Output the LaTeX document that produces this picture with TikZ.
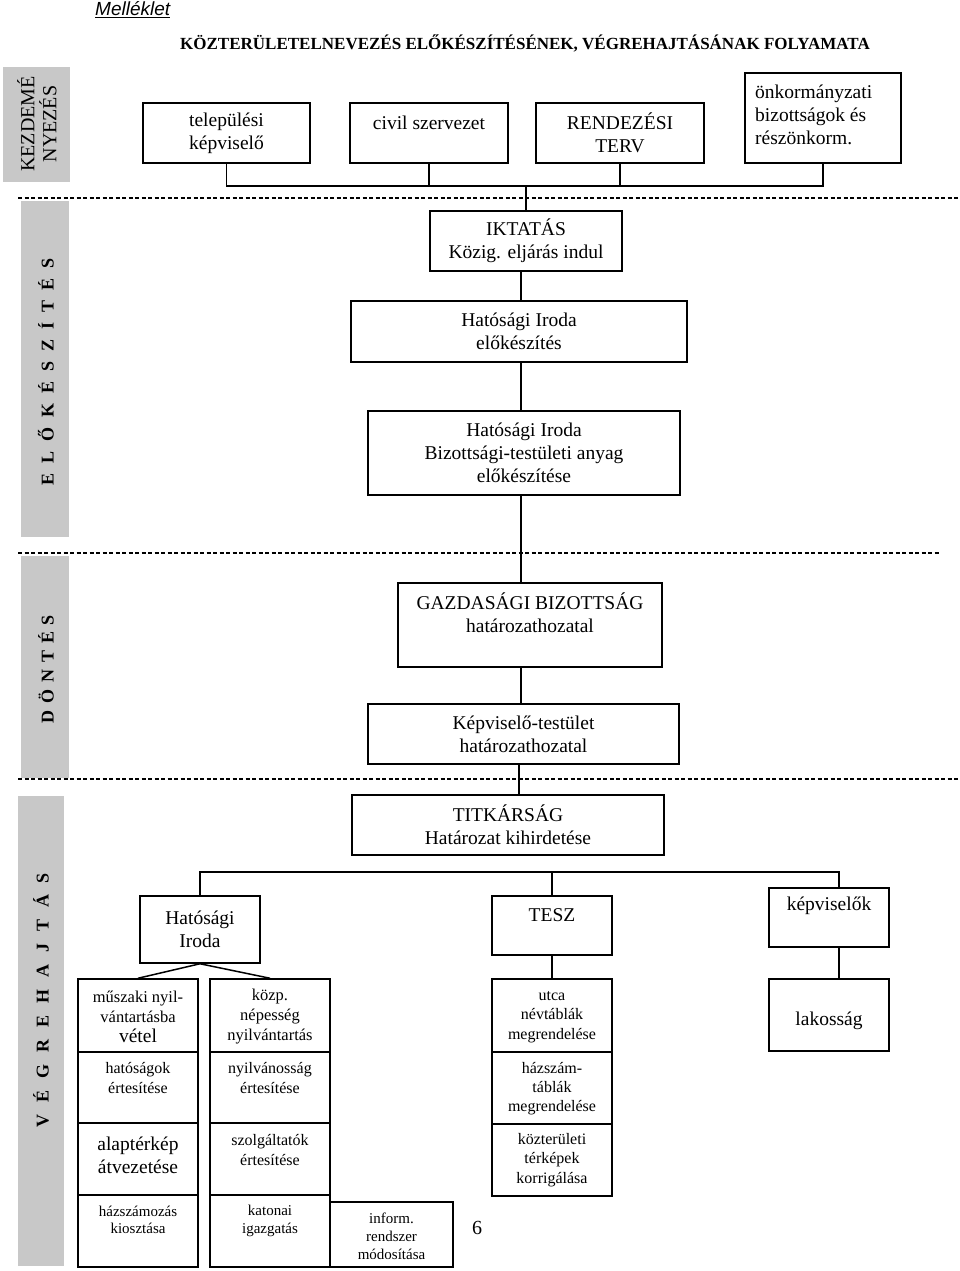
\documentclass[tikz,border=0pt]{standalone}
\usepackage{fontspec}
\setmainfont{Liberation Serif}
\newfontfamily\sansf{Liberation Sans}
\newcommand\fsz[2]{\fontsize{#1}{#2}\selectfont}
\newcommand\mainf{\fsz{19.5}{23}}
\definecolor{barg}{RGB}{200,200,200}
\begin{document}
\begin{tikzpicture}[x=1pt,y=-1pt,
  box/.style={draw, line width=1.5pt, inner sep=0pt, align=center, font=\mainf},
  txt/.style={inner sep=0pt, align=center},
  conn/.style={line width=1.5pt},
  sepline/.style={line width=1.2pt, dash pattern=on 4pt off 2.5pt},
  bartxt/.style={rotate=90, inner sep=0pt, font=\bfseries\fsz{18}{18}}]
\fill[white] (0,0) rectangle (960,1271);
\useasboundingbox (0,0) rectangle (960,1271);

% grey side bars
\fill[barg] (3,67) rectangle (70,182);
\fill[barg] (21,201) rectangle (69,537);
\fill[barg] (21,556) rectangle (69,778);
\fill[barg] (18,796) rectangle (64,1266);
\node[txt, rotate=90, font=\fsz{20}{22}] (lg1) at (37,124) {KEZDEMÉ\\NYEZÉS};
\node[bartxt] (lg2) at (46,371.5) {\makebox[227pt]{E\hfill L\hfill Ő\hfill K\hfill É\hfill S\hfill Z\hfill Í\hfill T\hfill É\hfill S}};
\node[bartxt] (lg3) at (46,669) {\makebox[108pt]{D\hfill Ö\hfill N\hfill T\hfill É\hfill S}};
\node[bartxt] (lg4) at (41,1000) {\makebox[254pt]{V\hfill É\hfill G\hfill R\hfill E\hfill H\hfill A\hfill J\hfill T\hfill Á\hfill S}};

% separators
\draw[sepline] (18,198) -- (960,198);
\draw[sepline] (18,553) -- (940,553);
\draw[sepline] (18,779) -- (960,779);

% headings
\node[txt, anchor=west, font=\sansf\itshape\fsz{19}{22}] (mell) at (95,10) {\underline{Melléklet}};
\node[txt, font=\bfseries\fsz{17}{20}] (title) at (525,43) {KÖZTERÜLETELNEVEZÉS ELŐKÉSZÍTÉSÉNEK, VÉGREHAJTÁSÁNAK FOLYAMATA};

% top row
\node[box, minimum width=167pt, minimum height=60pt] (b1) at (226.5,133) {települési\\képviselő};
\node[box, minimum width=158pt, minimum height=60pt] (b2) at (429,133) {};
\node[txt, font=\mainf] (b2t) at (429,123) {civil szervezet};
\node[box, minimum width=168pt, minimum height=60pt] (b3) at (620,133) {RENDEZÉSI\\TERV};
\node[box, minimum width=156pt, minimum height=90pt] (b4) at (823,118) {};
\node[txt, anchor=west, align=left, font=\mainf] (b4t) at (755,115) {önkormányzati\\bizottságok és\\részönkorm.};

% central chain
\node[box, minimum width=192pt, minimum height=60pt] (ikt) at (526,241) {IKTATÁS\\Közig. eljárás indul};
\node[box, minimum width=336pt, minimum height=61pt] (hat1) at (519,331.5) {Hatósági Iroda\\előkészítés};
\node[box, minimum width=312pt, minimum height=84pt] (hat2) at (524,453) {Hatósági Iroda\\Bizottsági-testületi anyag\\előkészítése};
\node[box, minimum width=264pt, minimum height=84pt] (gazd) at (530,625) {};
\node[txt, font=\mainf] (gazdt) at (530,613) {GAZDASÁGI BIZOTTSÁG\\határozathozatal};
\node[box, minimum width=311pt, minimum height=60pt] (kepv) at (523.5,734) {Képviselő-testület\\határozathozatal};
\node[box, minimum width=312pt, minimum height=60pt] (titk) at (508,825) {TITKÁRSÁG\\Határozat kihirdetése};

\coordinate (jt) at (526,186);
\draw[conn] (b1.south) -- (b1.south |- jt) -- (b4.south |- jt) -- (b4.south);
\draw[conn] (b2.south) -- (b2.south |- jt);
\draw[conn] (b3.south) -- (b3.south |- jt);
\draw[conn] (jt) -- (ikt.north);
\coordinate (sp) at (521,0);
\draw[conn] (ikt.south -| sp) -- (hat1.north -| sp);
\draw[conn] (hat1.south -| sp) -- (hat2.north -| sp);
\draw[conn] (hat2.south -| sp) -- (gazd.north -| sp);
\draw[conn] (gazd.south -| sp) -- (kepv.north -| sp);
\coordinate (sp2) at (519,0);
\draw[conn] (kepv.south -| sp2) -- (titk.north -| sp2);

% execution branches
\node[box, minimum width=120pt, minimum height=67pt] (hi) at (200,929.5) {Hatósági\\Iroda};
\node[box, minimum width=120pt, minimum height=59pt] (tesz) at (552,925.5) {};
\node[txt, font=\mainf] (teszt) at (552,915) {TESZ};
\node[box, minimum width=120pt, minimum height=59pt] (kepvk) at (829,917.5) {};
\node[txt, font=\mainf] (kepvkt) at (829,906) {képviselők};
\node[box, minimum width=120pt, minimum height=72pt] (lakos) at (829,1015) {};
\node[txt, font=\mainf] (lakost) at (829,1021) {lakosság};

\coordinate (br) at (0,872);
\coordinate (kx) at (839,0);
\draw[conn] (hi.north) -- (hi.north |- br) -- (kx |- br) -- (kx |- kepvk.north);
\draw[conn] (tesz.north) -- (tesz.north |- br);
\draw[conn] (kx |- kepvk.south) -- (kx |- lakos.north);

% left column
\node[box, minimum width=120pt, minimum height=73pt] (c1a) at (138,1015.5) {};
\node[box, minimum width=120pt, minimum height=71pt] (c1b) at (138,1087.5) {};
\node[box, minimum width=120pt, minimum height=72pt] (c1c) at (138,1159) {};
\node[box, minimum width=120pt, minimum height=72pt] (c1d) at (138,1231) {};
\node[txt, font=\fsz{16.5}{20}] (c1at) at (138,1017) {műszaki nyil-\\vántartásba\\{\fsz{19.5}{20}vétel}};
\node[txt, font=\fsz{16}{20}] (c1bt) at (138,1078) {hatóságok\\értesítése};
\node[txt, font=\fsz{19.5}{23}] (c1ct) at (138,1155) {alaptérkép\\átvezetése};
\node[txt, font=\fsz{15}{17}] (c1dt) at (138,1220) {házszámozás\\kiosztása};

% right column
\node[box, minimum width=120pt, minimum height=73pt] (c2a) at (270,1015.5) {};
\node[box, minimum width=120pt, minimum height=71pt] (c2b) at (270,1087.5) {};
\node[box, minimum width=120pt, minimum height=72pt] (c2c) at (270,1159) {};
\node[box, minimum width=120pt, minimum height=72pt] (c2d) at (270,1231) {};
\node[txt, font=\fsz{16.5}{20}] (c2at) at (270,1017) {közp.\\népesség\\nyilvántartás};
\node[txt, font=\fsz{16}{20}] (c2bt) at (270,1078) {nyilvánosság\\értesítése};
\node[txt, font=\fsz{16}{20}] (c2ct) at (270,1150) {szolgáltatók\\értesítése};
\node[txt, font=\fsz{15}{18}] (c2dt) at (270,1221) {katonai\\igazgatás};

\node[box, minimum width=123pt, minimum height=65pt] (inf) at (391.5,1234.5) {};
\node[txt, font=\fsz{15}{18}] (inft) at (391.5,1236) {inform.\\rendszer\\módosítása};
\node[txt, font=\fsz{20}{22}] (pg) at (477,1228) {6};

\draw[conn] (hi.south) -- (c1a.north);
\draw[conn] (hi.south) -- (c2a.north);

% TESZ column
\node[box, minimum width=120pt, minimum height=73pt] (t1) at (552,1015.5) {};
\node[box, minimum width=120pt, minimum height=72pt] (t2) at (552,1088) {};
\node[box, minimum width=120pt, minimum height=72pt] (t3) at (552,1160) {};
\node[txt, font=\fsz{16}{19.5}] (t1t) at (552,1017) {utca\\névtáblák\\megrendelése};
\node[txt, font=\fsz{16}{19}] (t2t) at (552,1089) {házszám-\\táblák\\megrendelése};
\node[txt, font=\fsz{16}{19.5}] (t3t) at (552,1160) {közterületi\\térképek\\korrigálása};
\draw[conn] (tesz.south) -- (t1.north);
\end{tikzpicture}
\end{document}
